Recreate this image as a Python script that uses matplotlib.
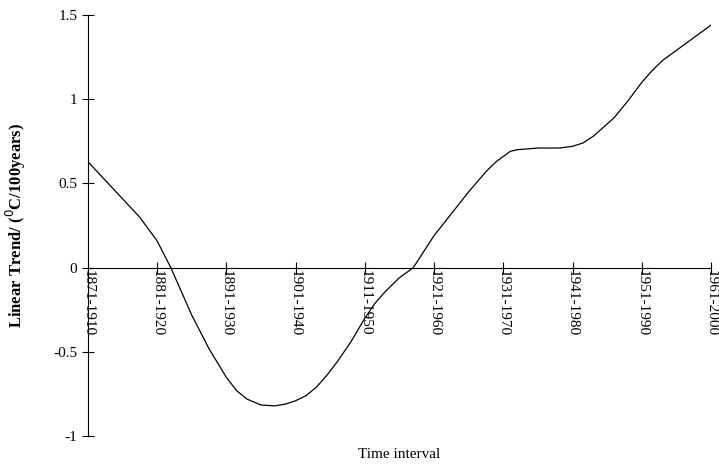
import matplotlib.pyplot as plt

plt.rcParams['font.family'] = ['Liberation Serif', 'DejaVu Serif']

intervals = ['1871-1910', '1881-1920', '1891-1930', '1901-1940', '1911-1950',
             '1921-1960', '1931-1970', '1941-1980', '1951-1990', '1961-2000']
# curve, x in interval units
pos = [0, 0.25, 0.5, 0.75, 1, 1.2, 1.35, 1.5, 1.75, 2, 2.15, 2.3, 2.5, 2.7,
       2.85, 3, 3.15, 3.3, 3.45, 3.6, 3.8, 4, 4.15, 4.3, 4.5, 4.7,
       5, 5.25, 5.5, 5.75, 5.9, 6, 6.1, 6.2, 6.5, 6.8, 7, 7.15, 7.3,
       7.6, 7.8, 8, 8.15, 8.3, 8.6, 9]
trend = [0.63, 0.52, 0.41, 0.30, 0.16, 0.0, -0.14, -0.28, -0.48, -0.65,
         -0.73, -0.78, -0.815, -0.82, -0.81, -0.79, -0.76, -0.71, -0.64,
         -0.56, -0.44, -0.30, -0.21, -0.14, -0.06, 0.0, 0.19, 0.32, 0.45,
         0.57, 0.63, 0.66, 0.69, 0.70, 0.71, 0.71, 0.72, 0.74, 0.78,
         0.89, 0.99, 1.10, 1.17, 1.23, 1.32, 1.44]

fig = plt.figure(figsize=(7.19, 4.66), dpi=100)
ax = fig.add_axes([0.122, 0.064, 0.867, 0.904])
ax.plot(pos, trend, color='black', lw=0.9)

ax.set_xlim(0, 9)
ax.set_ylim(-1, 1.5)
ax.spines['left'].set_position(('data', 0))
ax.spines['bottom'].set_position(('data', 0))
ax.spines['top'].set_visible(False)
ax.spines['right'].set_visible(False)

ax.set_yticks([-1, -0.5, 0, 0.5, 1, 1.5])
ax.set_yticklabels(['-1', '-0.5', '0', '0.5', '1', '1.5'], fontsize=11)
ax.set_xticks(range(len(intervals)))
ax.set_xticklabels(intervals, rotation=270, fontsize=11)
ax.tick_params(axis='x', direction='inout', length=8, pad=-2)
ax.tick_params(axis='y', direction='inout', length=8)

ax.set_ylabel('Linear Trend/ ($^{0}$C/100years)', fontsize=12, fontweight='bold',
              labelpad=18)
fig.text(0.555, 0.018, 'Time interval', ha='center', fontsize=11)

fig.savefig('out.png')
